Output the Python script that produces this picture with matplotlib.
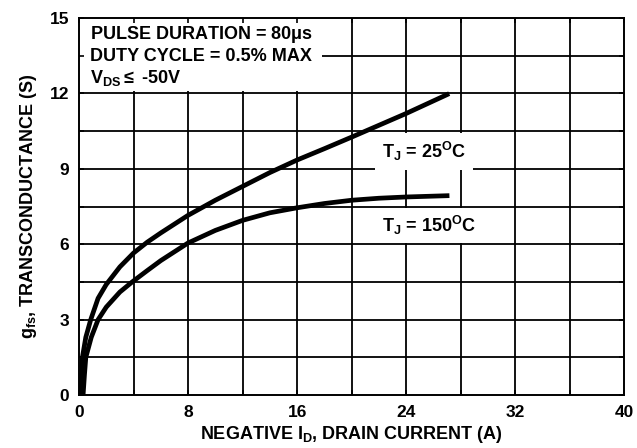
import numpy as np
import matplotlib.pyplot as plt
from matplotlib.patches import Rectangle

plt.rcParams['font.family'] = ['Liberation Sans', 'DejaVu Sans']
plt.rcParams['font.weight'] = 'bold'
plt.rcParams['mathtext.fontset'] = 'custom'
plt.rcParams['mathtext.rm'] = 'Liberation Sans:bold'
plt.rcParams['mathtext.bf'] = 'Liberation Sans:bold'
plt.rcParams['mathtext.it'] = 'Liberation Sans:bold'
plt.rcParams['mathtext.default'] = 'regular'

# drain current (A) and transconductance (S)
id_25 = [0.15, 0.2, 0.25, 0.5, 0.86, 1.4, 2.0, 3, 4, 5, 6, 7, 8, 10, 12, 14, 16, 18, 20, 22, 24, 27]
gfs_25 = [0.0, 0.8, 1.5, 2.3, 3.0, 3.85, 4.4, 5.1, 5.65, 6.08, 6.45, 6.8, 7.15, 7.75, 8.3,
          8.85, 9.35, 9.8, 10.26, 10.73, 11.2, 11.95]

id_150 = [0.3, 0.4, 0.5, 0.9, 1.4, 2, 3, 3.9, 5, 6, 7, 8, 10, 12, 14, 16, 18, 20, 22, 24, 27]
gfs_150 = [0.0, 0.8, 1.5, 2.3, 3.0, 3.5, 4.1, 4.5, 4.95, 5.35, 5.7, 6.05, 6.55, 6.95,
           7.25, 7.45, 7.62, 7.75, 7.83, 7.88, 7.93]

xticks = [0, 8, 16, 24, 32, 40]
yticks = [0, 3, 6, 9, 12, 15]
xgrid = np.arange(4, 40, 4)
ygrid = np.arange(1.5, 15, 1.5)

fig = plt.figure(figsize=(6.37, 4.48), dpi=100)
ax = fig.add_axes([0.124, 0.118, 0.856, 0.842])

# grid drawn by hand so white label boxes can sit between grid and ticks
for gx in xgrid:
    ax.axvline(gx, color='black', lw=1.3, zorder=1)
for gy in ygrid:
    ax.axhline(gy, color='black', lw=1.3, zorder=1)

ax.plot(id_25, gfs_25, color='black', lw=3.4, solid_joinstyle='round', zorder=4)
ax.plot(id_150, gfs_150, color='black', lw=3.4, solid_joinstyle='round', zorder=4)

ax.set_xlim(0, 40)
ax.set_ylim(0, 15)
ax.set_xticks(xticks)
ax.set_yticks(yticks)
ax.set_xticks(xgrid, minor=True)
ax.set_yticks(ygrid, minor=True)
ax.set_axisbelow(False)
ax.tick_params(which='both', direction='in', length=3.5, width=1.2,
               top=True, right=True, labelsize=12.5, pad=7)
for lab in ax.get_xticklabels() + ax.get_yticklabels():
    lab.set_fontweight('bold')
for s in ax.spines.values():
    s.set_linewidth(1.4)
    s.set_zorder(6)

ax.set_xlabel('NEGATIVE I$_D$, DRAIN CURRENT (A)', fontsize=13, fontweight='bold', labelpad=3)
ax.set_ylabel('g$_{fs}$, TRANSCONDUCTANCE (S)', fontsize=13, fontweight='bold', labelpad=8)

# white panel behind the test conditions
ax.add_patch(Rectangle((0, 12.08), 17.8, 2.92, facecolor='white', edgecolor='none', zorder=2))
ax.text(0.8, 14.34, 'PULSE DURATION = 80$\\mu$s', fontsize=13, fontweight='bold',
        va='center', ha='left', zorder=5)
ax.text(0.8, 13.47, 'DUTY CYCLE = 0.5% MAX', fontsize=13, fontweight='bold',
        va='center', ha='left', bbox=dict(facecolor='white', edgecolor='none', pad=2), zorder=5)
ax.text(0.8, 12.6, 'V$_{DS}$$\\leq$ -50V', fontsize=13, fontweight='bold',
        va='center', ha='left', zorder=5)

ax.text(25.3, 9.7, 'T$_J$ = 25$^{O}$C', fontsize=13, fontweight='bold',
        va='center', ha='center', bbox=dict(facecolor='white', edgecolor='none', pad=5), zorder=5)
ax.text(25.7, 6.75, 'T$_J$ = 150$^{O}$C', fontsize=13, fontweight='bold',
        va='center', ha='center', bbox=dict(facecolor='white', edgecolor='none', pad=4), zorder=3)

fig.savefig('out.png', dpi=100)
